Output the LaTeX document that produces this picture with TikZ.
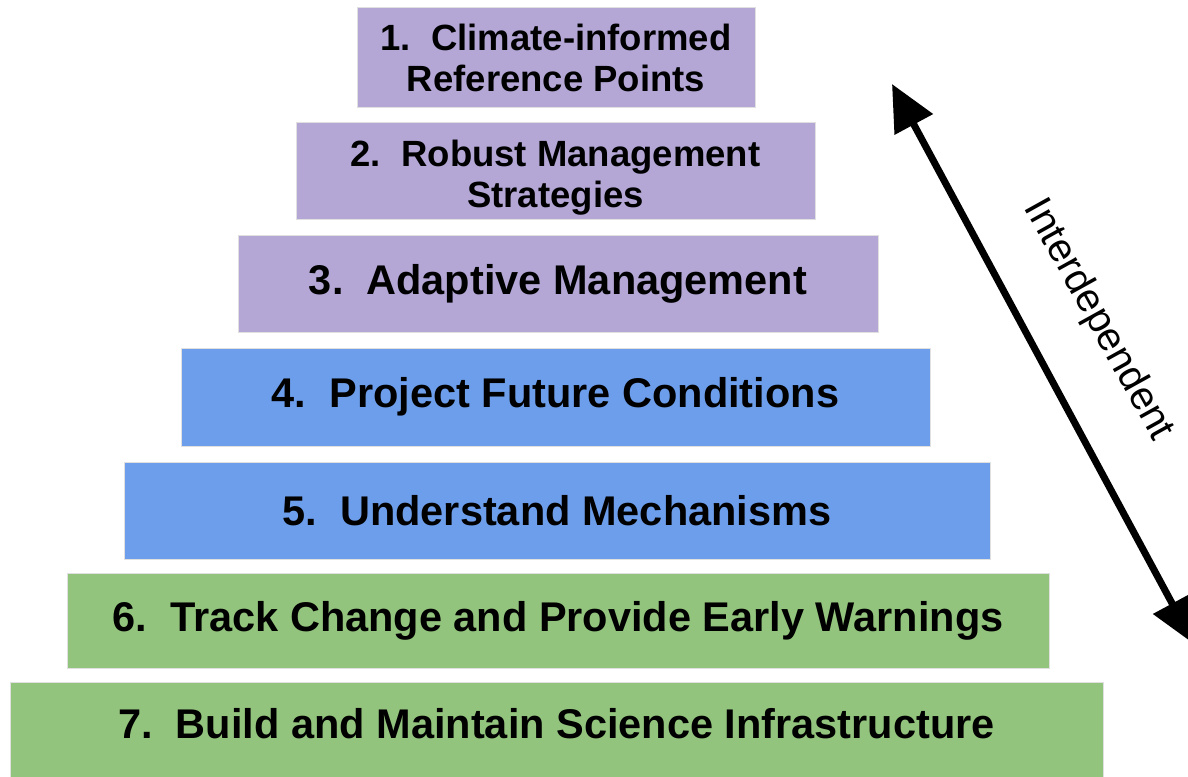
\documentclass[tikz,border=0pt]{standalone}
\usepackage{fontspec}
\setmainfont{Liberation Sans}
\usetikzlibrary{arrows.meta}
\definecolor{purp}{HTML}{B4A7D6}
\definecolor{blu}{HTML}{6D9EEB}
\definecolor{grn}{HTML}{93C47D}
\begin{document}
\begin{tikzpicture}[x=1pt,y=-1pt,
  box/.style={draw=black!12, line width=1pt, inner sep=0pt, outer sep=0pt,
    font=\fontsize{41.5}{42}\selectfont\bfseries, align=center},
  twoline/.style={font=\fontsize{36.5}{41}\selectfont\bfseries},
  arr/.style={line width=7pt, {Triangle[length=46pt,width=42pt]}-{Triangle[length=46pt,width=42pt]}},
  lbl/.style={font=\fontsize{40}{42}\selectfont, inner sep=0pt}]
\useasboundingbox (0,0) rectangle (1188,776);
\clip (0,0) rectangle (1188,776);
\fill[white] (0,0) rectangle (1188,776);
\node[box, twoline, fill=purp, minimum width=398pt, minimum height=99pt] (b1) at (556,57.5) {1.\ \ Climate-informed\\Reference Points};
\node[box, fill=purp, minimum width=519pt, minimum height=97pt] (b2) at (555.5,170.5) {};
\node[box, twoline, draw=none] (t2) at (555.5,178) {2.\ \ Robust Management\\Strategies};
\node[box, fill=purp, minimum width=640pt, minimum height=97pt] (b3) at (558,283.5) {3.\ \ Adaptive Management};
\node[box, fill=blu, minimum width=749pt, minimum height=98pt] (b4) at (555.5,397) {4.\ \ Project Future Conditions};
\node[box, fill=blu, minimum width=866pt, minimum height=97pt] (b5) at (557,510.5) {5.\ \ Understand Mechanisms};
\node[box, fill=grn, minimum width=982pt, minimum height=95pt] (b6) at (558,620.5) {6.\ \ Track Change and Provide Early Warnings};
\node[box, fill=grn, minimum width=1093pt, minimum height=100pt] (b7) at (556.5,732) {};
\node[box, draw=none] (t7) at (556.5,724) {7.\ \ Build and Maintain Science Infrastructure};
\coordinate (top) at (892,84);
\coordinate (bot) at (1194,644);
\draw[arr] (top) -- (bot);
\node[lbl, rotate=-61] (lab) at (1098,320) {Interdependent};
\end{tikzpicture}
\end{document}
